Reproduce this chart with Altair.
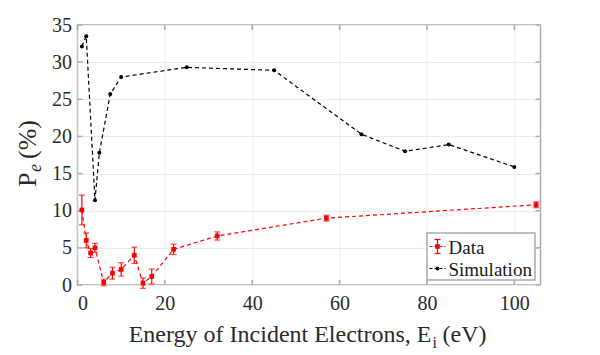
import altair as alt
import pandas as pd

data_x = [1, 2, 3, 4, 6, 8, 10, 13, 15, 17, 22, 32, 57, 105]
data_y = [10.1, 6.0, 4.3, 5.0, 0.35, 1.6, 2.1, 4.0, 0.25, 1.15, 4.8, 6.6, 9.0, 10.8]
data_err = [2.0, 1.0, 0.6, 0.6, 0.45, 0.8, 0.9, 1.1, 0.7, 1.0, 0.7, 0.55, 0.4, 0.4]

# Simulation
sim_x = [1, 2, 4, 5, 7.5, 10, 25, 45, 65, 75, 85, 100]
sim_y = [32.1, 33.5, 11.4, 17.8, 25.7, 28.0, 29.3, 28.9, 20.3, 18.0, 18.9, 15.9]

x_ticks = [0, 20, 40, 60, 80, 100]
y_ticks = [0, 5, 10, 15, 20, 25, 30, 35]

W, H = 463, 260
FONT = "Liberation Serif"
RED = "#ff0000"
AXC = "#ababab"

ddf = pd.DataFrame({"x": data_x, "y": data_y, "err": data_err})
ddf["lo"] = ddf["y"] - ddf["err"]
ddf["hi"] = ddf["y"] + ddf["err"]
sdf = pd.DataFrame({"x": sim_x, "y": sim_y})

xs = alt.Scale(domain=[0, 106], nice=False, zero=False)
ys = alt.Scale(domain=[0, 35], nice=False, zero=False)

xaxis = alt.Axis(values=x_ticks, title=None, grid=True, gridColor="#ebebeb",
                 domain=False, ticks=False, tickSize=0, labelPadding=8, labelOverlap=False,
                 labelFont=FONT, labelFontSize=20, labelColor="#2b2b2b")
yaxis = alt.Axis(values=y_ticks, title=None, grid=True, gridColor="#ebebeb",
                 domain=False, ticks=False, tickSize=0, labelPadding=6, labelOverlap=False,
                 labelFont=FONT, labelFontSize=20, labelColor="#2b2b2b")


def X(f):
    return alt.X(f, scale=xs, axis=xaxis)


def Y(f):
    return alt.Y(f, scale=ys, axis=yaxis)


# inward ticks
xt = pd.DataFrame({"t": x_ticks})
yt = pd.DataFrame({"t": y_ticks})
tick_b = alt.Chart(xt).mark_rule(color=AXC, strokeWidth=1.5).encode(
    x=X("t:Q"), y=alt.value(H), y2=alt.value(H - 5))
tick_t = alt.Chart(xt).mark_rule(color=AXC, strokeWidth=1.5).encode(
    x=X("t:Q"), y=alt.value(0), y2=alt.value(5))
tick_l = alt.Chart(yt).mark_rule(color=AXC, strokeWidth=1.5).encode(
    y=Y("t:Q"), x=alt.value(0), x2=alt.value(5))
tick_r = alt.Chart(yt).mark_rule(color=AXC, strokeWidth=1.5).encode(
    y=Y("t:Q"), x=alt.value(W), x2=alt.value(W - 5))

# simulation
sim_line = alt.Chart(sdf).mark_line(color="#000000", strokeDash=[4, 3], strokeWidth=1.2).encode(
    x=X("x:Q"), y=Y("y:Q"))
sim_pts = alt.Chart(sdf).mark_point(filled=True, color="#000000", size=16, opacity=1).encode(
    x=X("x:Q"), y=Y("y:Q"))

# data
d_line = alt.Chart(ddf).mark_line(color=RED, strokeDash=[4, 3], strokeWidth=1.2).encode(
    x=X("x:Q"), y=Y("y:Q"))
d_err = alt.Chart(ddf).mark_rule(color=RED, strokeWidth=1.2).encode(
    x=X("x:Q"), y=Y("lo:Q"), y2="hi:Q")
d_cap_lo = alt.Chart(ddf).mark_tick(color=RED, size=6, thickness=1.2, orient="horizontal").encode(
    x=X("x:Q"), y=Y("lo:Q"))
d_cap_hi = alt.Chart(ddf).mark_tick(color=RED, size=6, thickness=1.2, orient="horizontal").encode(
    x=X("x:Q"), y=Y("hi:Q"))
d_pts = alt.Chart(ddf).mark_point(filled=True, color=RED, size=22, opacity=1, shape="square").encode(
    x=X("x:Q"), y=Y("y:Q"))

one = pd.DataFrame({"a": [0]})

# legend
LX0, LX1, LY0, LY1 = 349.5, 457.5, 208, 255
leg_box = alt.Chart(one).mark_rect(fill="white", stroke=AXC, strokeWidth=1.5).encode(
    x=alt.value(LX0), x2=alt.value(LX1), y=alt.value(LY0), y2=alt.value(LY1))
r1, r2 = 221.5, 243.5
leg_dline = alt.Chart(one).mark_rule(color=RED, strokeDash=[3, 2], strokeWidth=1.2).encode(
    x=alt.value(352), x2=alt.value(368), y=alt.value(r1))
leg_derr = alt.Chart(one).mark_rule(color=RED, strokeWidth=1.2).encode(
    x=alt.value(360), y=alt.value(r1 - 7), y2=alt.value(r1 + 7))
leg_dcap1 = alt.Chart(one).mark_rule(color=RED, strokeWidth=1.2).encode(
    x=alt.value(357), x2=alt.value(363), y=alt.value(r1 - 7))
leg_dcap2 = alt.Chart(one).mark_rule(color=RED, strokeWidth=1.2).encode(
    x=alt.value(357), x2=alt.value(363), y=alt.value(r1 + 7))
leg_dpt = alt.Chart(one).mark_point(filled=True, color=RED, size=22, opacity=1, shape="square").encode(
    x=alt.value(360), y=alt.value(r1))
leg_dtxt = alt.Chart(one).mark_text(text="Data", font=FONT, fontSize=19, align="left",
                                    baseline="middle", color="#1a1a1a").encode(
    x=alt.value(371), y=alt.value(r1 + 1))
leg_sline = alt.Chart(one).mark_rule(color="#000000", strokeDash=[3, 2], strokeWidth=1.2).encode(
    x=alt.value(352), x2=alt.value(368), y=alt.value(r2))
leg_spt = alt.Chart(one).mark_point(filled=True, color="#000000", size=16, opacity=1).encode(
    x=alt.value(360), y=alt.value(r2))
leg_stxt = alt.Chart(one).mark_text(text="Simulation", font=FONT, fontSize=19, align="left",
                                    baseline="middle", color="#1a1a1a").encode(
    x=alt.value(371), y=alt.value(r2 + 1))

# axis titles (built from pieces to get subscripts)
TC = "#2b2b2b"
xt1 = alt.Chart(one).mark_text(text="Energy of Incident Electrons, E", font=FONT, fontSize=24,
                               align="right", baseline="alphabetic", color=TC).encode(
    x=alt.value(354), y=alt.value(317))
xt2 = alt.Chart(one).mark_text(text="i", font=FONT, fontSize=16,
                               align="left", baseline="alphabetic", color=TC).encode(
    x=alt.value(355), y=alt.value(323))
xt3 = alt.Chart(one).mark_text(text="(eV)", font=FONT, fontSize=24,
                               align="left", baseline="alphabetic", color=TC).encode(
    x=alt.value(365), y=alt.value(317))

yt1 = alt.Chart(one).mark_text(text="P", font=FONT, fontSize=26, angle=270,
                               align="left", baseline="alphabetic", color=TC).encode(
    x=alt.value(-42), y=alt.value(162))
yt2 = alt.Chart(one).mark_text(text="e", font=FONT, fontSize=18, fontStyle="italic", angle=270,
                               align="left", baseline="alphabetic", color=TC).encode(
    x=alt.value(-37), y=alt.value(147))
yt3 = alt.Chart(one).mark_text(text="(%)", font=FONT, fontSize=26, angle=270,
                               align="left", baseline="alphabetic", color=TC).encode(
    x=alt.value(-42), y=alt.value(134))

chart = alt.layer(
    tick_b, tick_t, tick_l, tick_r,
    sim_line, sim_pts,
    d_line, d_err, d_cap_lo, d_cap_hi, d_pts,
    leg_box, leg_dline, leg_derr, leg_dcap1, leg_dcap2, leg_dpt, leg_dtxt,
    leg_sline, leg_spt, leg_stxt,
    xt1, xt2, xt3, yt1, yt2, yt3,
).properties(
    width=W, height=H,
    autosize=alt.AutoSizeParams(type="none"),
    padding={"left": 69.5, "top": 17, "right": 40, "bottom": 70},
    background="white",
).configure_view(stroke=AXC, strokeWidth=1.5)

chart.save("out.html", embed_options={"renderer": "svg", "actions": False})
